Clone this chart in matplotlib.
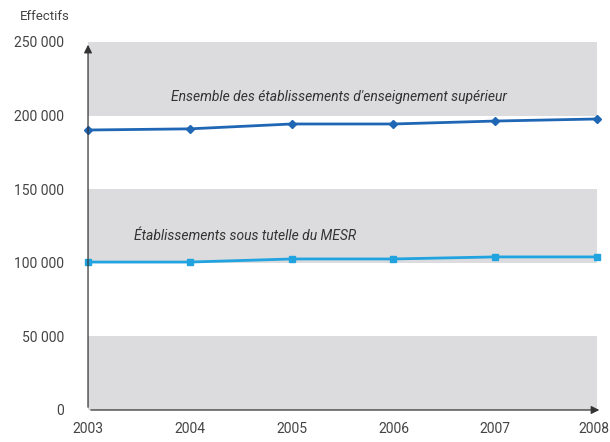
import matplotlib
matplotlib.use("Agg")
import matplotlib.pyplot as plt
import matplotlib.transforms as mtransforms

years = [2003, 2004, 2005, 2006, 2007, 2008]
ensemble = [190200, 191000, 194300, 194300, 196300, 197700]
mesr = [100500, 100500, 102600, 102600, 104000, 104000]
ytick_values = [0, 50000, 100000, 150000, 200000, 250000]
ytick_labels = ["0", "50 000", "100 000", "150 000", "200 000", "250 000"]

font = "Roboto"

fig = plt.figure(figsize=(6.1, 4.42), dpi=100)
ax = fig.add_axes([0.1443, 0.0724, 0.8344, 0.8326])
ax.set_xlim(2003, 2008)
ax.set_ylim(0, 250000)

# alternating grey bands
for lo in (0, 100000, 200000):
    ax.axhspan(lo, lo + 50000, color="#dcdcde", zorder=0, lw=0)

ax.plot(years, ensemble, color="#1f67b4", lw=2, marker="D", ms=4.5, zorder=3, clip_on=False)
ax.plot(years, mesr, color="#21a3e0", lw=2, marker="s", ms=5, zorder=3, clip_on=False)

ax.text(2005.46, 212500, "Ensemble des établissements d'enseignement supérieur",
        style="italic", fontsize=10, color="#333333", ha="center", va="center", family=font)
ax.text(2004.54, 118500, "Établissements sous tutelle du MESR",
        style="italic", fontsize=10, color="#333333", ha="center", va="center", family=font)

for s in ax.spines.values():
    s.set_visible(False)

# axes with arrow heads
ax.annotate("", xy=(0, 1.0), xytext=(0, 0), xycoords="axes fraction",
            arrowprops=dict(arrowstyle="-|>", color="#333333", lw=0.9, mutation_scale=12), annotation_clip=False)
ax.annotate("", xy=(1.01, 0), xytext=(0, 0), xycoords="axes fraction",
            arrowprops=dict(arrowstyle="-|>", color="#333333", lw=0.9, mutation_scale=12), annotation_clip=False)

ax.set_yticks(ytick_values)
ax.set_yticklabels(ytick_labels)
ax.set_xticks(years)
ax.set_xticklabels([str(y) for y in years])
ax.tick_params(length=0, labelsize=10, labelcolor="#444444", pad=17)
ax.tick_params(axis="x", pad=9)
for lab in ax.get_xticklabels() + ax.get_yticklabels():
    lab.set_family(font)

# keep the last year label inside the canvas
last = ax.get_xticklabels()[-1]
last.set_horizontalalignment("right")
last.set_transform(last.get_transform() + mtransforms.ScaledTranslation(12 / 100, 0, fig.dpi_scale_trans))

fig.text(0.033, 0.963, "Effectifs", fontsize=9.5, color="#444444", family=font, va="center")

fig.savefig("out.png", dpi=100, facecolor="white")
